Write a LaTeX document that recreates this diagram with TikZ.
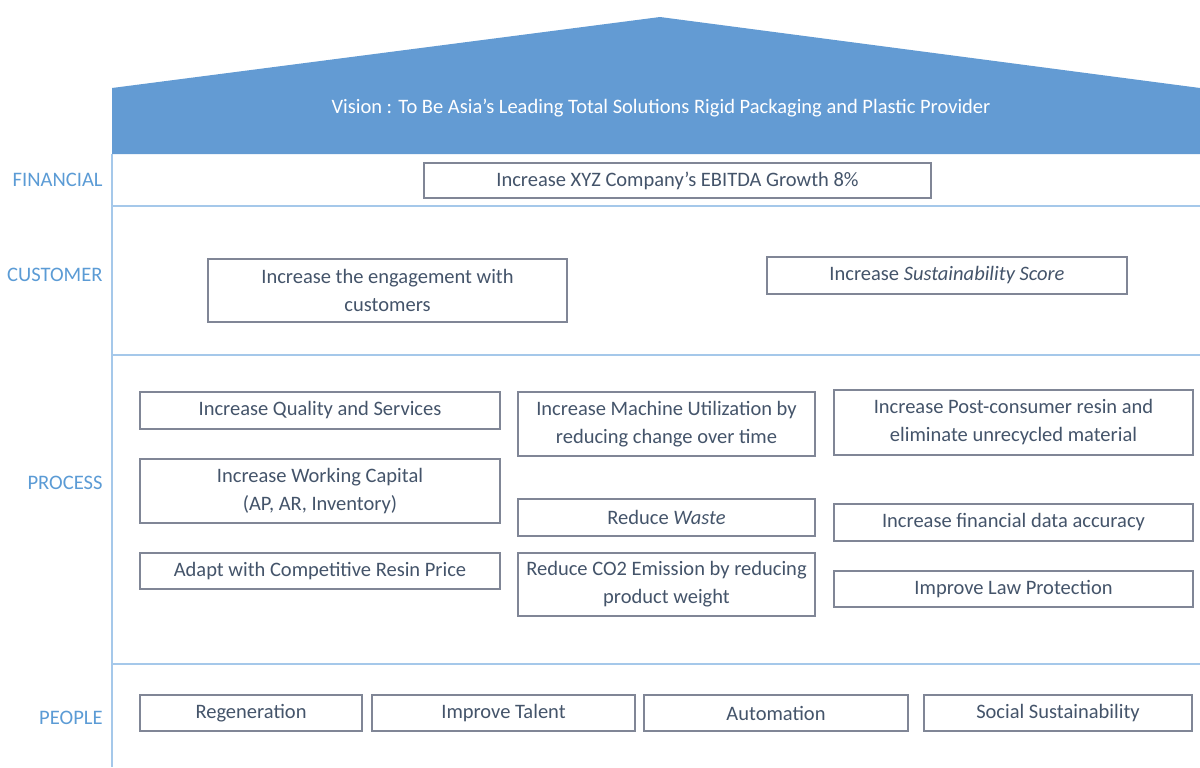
\documentclass[tikz,border=0pt]{standalone}
\usepackage{fontspec}
\setmainfont{Carlito}
\definecolor{roofblue}{RGB}{99,155,211}
\definecolor{lineblue}{RGB}{165,200,234}
\definecolor{labelblue}{RGB}{91,155,213}
\definecolor{boxtext}{RGB}{68,84,106}
\definecolor{boxline}{RGB}{128,134,150}
% goal box given by its corners (name, x1, y1, x2, y2, text)
\newcommand\goalbox[6]{%
  \node[goal, minimum width={(#4-#2)*0.5pt}, minimum height={(#5-#3)*0.5pt}]
    (#1) at ({(#2+#4)/2},{(#3+#5)/2}) {#6};}
\begin{document}
\begin{tikzpicture}[x=0.5pt,y=-0.5pt,
  goal/.style={draw=boxline, line width=0.6pt, fill=white, inner sep=0pt,
    align=center, text=boxtext, font=\fontsize{10.25}{14}\selectfont},
  persp/.style={anchor=east, text=labelblue, inner sep=0pt,
    font=\fontsize{10.3}{12}\selectfont},
  sep/.style={draw=lineblue, line width=1pt}]
\useasboundingbox (0,0) rectangle (1200,767);
% roof and vision band
\fill[roofblue] (112,154) -- (112,88) -- (660,17) -- (1200,88) -- (1200,154) -- cycle;
\node[text=white, font=\fontsize{10.25}{12}\selectfont] (vision) at (661,108)
  {Vision : To Be Asia’s Leading Total Solutions Rigid Packaging and Plastic Provider};
% frame of the house
\draw[sep] (112,154) -- (112,767);
\draw[sep] (112,206) -- (1200,206);
\draw[sep] (112,355) -- (1200,355);
\draw[sep] (112,664) -- (1200,664);
% perspective labels
\node[persp] (lfin) at (103,180) {FINANCIAL};
\node[persp] (lcus) at (103,275) {CUSTOMER};
\node[persp] (lpro) at (103,483) {PROCESS};
\node[persp] (lpeo) at (103,718) {PEOPLE};
% financial
\goalbox{ebitda}{424}{163}{931}{198}{Increase XYZ Company’s EBITDA Growth 8\%}
% customer
\goalbox{engage}{208}{259}{567}{322}{Increase the engagement with\\customers}
\goalbox{sustain}{767}{257}{1127}{294}{Increase \textit{Sustainability Score}}
% process
\goalbox{quality}{140}{392}{500}{429}{Increase Quality and Services}
\goalbox{capital}{140}{459}{500}{523}{Increase Working Capital\\(AP, AR, Inventory)}
\goalbox{resin}{140}{553}{500}{589}{Adapt with Competitive Resin Price}
\goalbox{machine}{518}{392}{815}{456}{Increase Machine Utilization by\\reducing change over time}
\goalbox{waste}{518}{499}{815}{536}{Reduce \textit{Waste}}
\goalbox{co2}{518}{553}{815}{616}{Reduce CO2 Emission by reducing\\product weight}
\goalbox{pcr}{834}{390}{1193}{455}{Increase Post-consumer resin and\\eliminate unrecycled material}
\goalbox{findata}{834}{504}{1193}{541}{Increase financial data accuracy}
\goalbox{law}{834}{571}{1193}{607}{Improve Law Protection}
% people
\goalbox{regen}{140}{695}{362}{731}{Regeneration}
\goalbox{talent}{372}{695}{635}{731}{Improve Talent}
\goalbox{auto}{644}{695}{908}{731}{Automation}
\goalbox{social}{924}{695}{1192}{731}{Social Sustainability}
\end{tikzpicture}
\end{document}
